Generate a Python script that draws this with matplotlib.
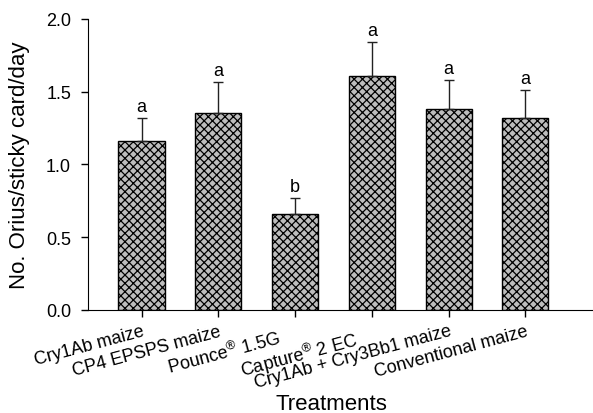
import numpy as np
import matplotlib
matplotlib.use("Agg")
import matplotlib.pyplot as plt
from matplotlib.transforms import ScaledTranslation

plt.rcParams['font.family'] = ['Liberation Sans', 'DejaVu Sans']
plt.rcParams['mathtext.fontset'] = 'custom'
plt.rcParams['mathtext.rm'] = 'Liberation Sans'
plt.rcParams['hatch.linewidth'] = 0.9
plt.rcParams['hatch.color'] = 'black'

# data
treatments = ["Cry1Ab maize", "CP4 EPSPS maize", "Pounce$^{\\mathrm{\u00ae}}$ 1.5G",
              "Capture$^{\\mathrm{\u00ae}}$ 2 EC", "Cry1Ab + Cry3Bb1 maize", "Conventional maize"]
means = [1.16, 1.35, 0.66, 1.61, 1.38, 1.32]
se = [0.16, 0.215, 0.11, 0.23, 0.20, 0.19]
letters = ["a", "a", "b", "a", "a", "a"]

fig = plt.figure(figsize=(5.93, 4.14), dpi=100)
ax = fig.add_axes([0.148, 0.249, 0.852, 0.703])

x = np.arange(len(treatments))
ax.bar(x, means, width=0.6, color='#bdbdbd', edgecolor='black', linewidth=1.0,
       hatch='xxxx', zorder=2)
ax.errorbar(x, means, yerr=[np.zeros(len(se)), se], fmt='none', ecolor='#222222',
            elinewidth=1.0, capsize=3.5, capthick=1.0, zorder=3)

for xi, m, s, l in zip(x, means, se, letters):
    ax.text(xi, m + s + 0.02, l, ha='center', va='bottom', fontsize=13)

ax.set_xlim(-0.7, 5.88)
ax.set_ylim(0, 2.0)
ax.set_yticks([0.0, 0.5, 1.0, 1.5, 2.0])
ax.set_yticklabels(["0.0", "0.5", "1.0", "1.5", "2.0"], fontsize=13)
ax.set_xticks(x)
ax.set_xticklabels(treatments, rotation=15, ha='right', rotation_mode='anchor', fontsize=13)
ax.tick_params(axis='both', direction='out', length=5, width=1)
ax.tick_params(axis='y', pad=7)
ax.tick_params(axis='x', pad=4)

# the two insecticide labels sit a bit left of their ticks in the original
for lab in ax.get_xticklabels()[2:4]:
    lab.set_transform(lab.get_transform() + ScaledTranslation(-13/72, -4/72, fig.dpi_scale_trans))

ax.spines['top'].set_visible(False)
ax.spines['right'].set_visible(False)

ax.set_ylabel("No. Orius/sticky card/day", fontsize=16)
ax.yaxis.set_label_coords(-0.115, 0.5)
ax.set_xlabel("Treatments", fontsize=16)
ax.xaxis.set_label_coords(0.483, -0.285)

fig.savefig("out.png", dpi=100)
